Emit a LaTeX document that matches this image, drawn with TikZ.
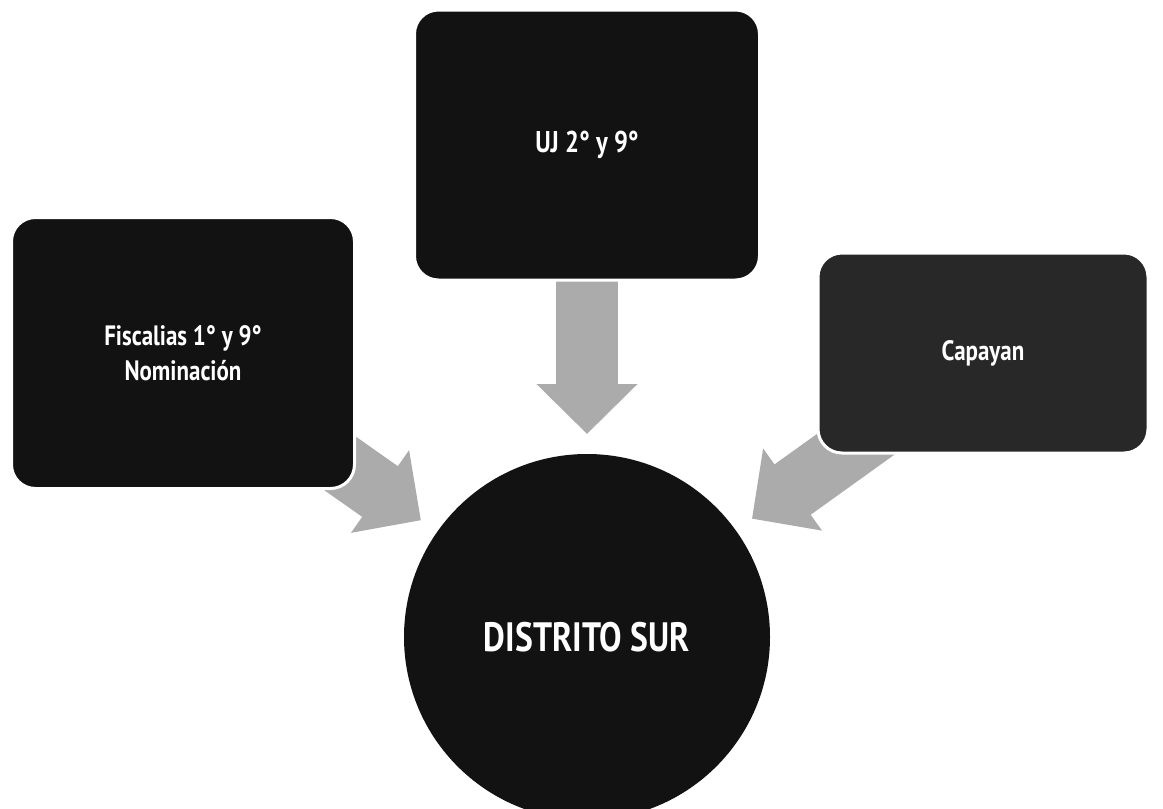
\documentclass[tikz,border=0pt]{standalone}
\usepackage{fontspec}
\newfontfamily\dinfont[FakeStretch=0.82]{PT Sans}
\usetikzlibrary{arrows.meta,backgrounds}
\definecolor{negro}{HTML}{121212}
\definecolor{grisoscuro}{HTML}{282828}
\definecolor{grisclaro}{HTML}{ABABAB}
\begin{document}
\begin{tikzpicture}[x=1pt,y=-1pt,
  caja/.style={rectangle, rounded corners=24pt, fill=negro, draw=white, line width=3pt, text=white, align=center},
  flecha/.style={draw=grisclaro, line width=62pt, -{Triangle[width=98pt,length=50pt]}, shorten <=106pt, shorten >=203pt}]

\useasboundingbox (0,0) rectangle (1163,809);

% Cajas
\node[caja, minimum width=343pt, minimum height=271pt, font=\dinfont\bfseries\fontsize{28}{35}\selectfont] (fisc) at (183,353) {Fiscalias 1° y 9°\\Nominación};
\node[caja, minimum width=345pt, minimum height=270pt, font=\dinfont\bfseries\fontsize{30}{36}\selectfont] (uj) at (587,145) {UJ 2° y 9°};
\node[caja, fill=grisoscuro, minimum width=330pt, minimum height=200pt, font=\dinfont\bfseries\fontsize{28}{34}\selectfont] (cap) at (983,353) {Capayan};

% Distrito (circulo)
\node[circle, fill=negro, minimum size=366pt, text=white, font=\dinfont\bfseries\fontsize{41}{48}\selectfont] (sur) at (587,637) {DISTRITO SUR};

% Flechas
\begin{scope}[on background layer]
\draw[flecha] (fisc.center) -- (sur.center);
\draw[flecha] (uj.center) -- (sur.center);
\draw[flecha] (cap.center) -- (sur.center);
\end{scope}

\end{tikzpicture}
\end{document}
